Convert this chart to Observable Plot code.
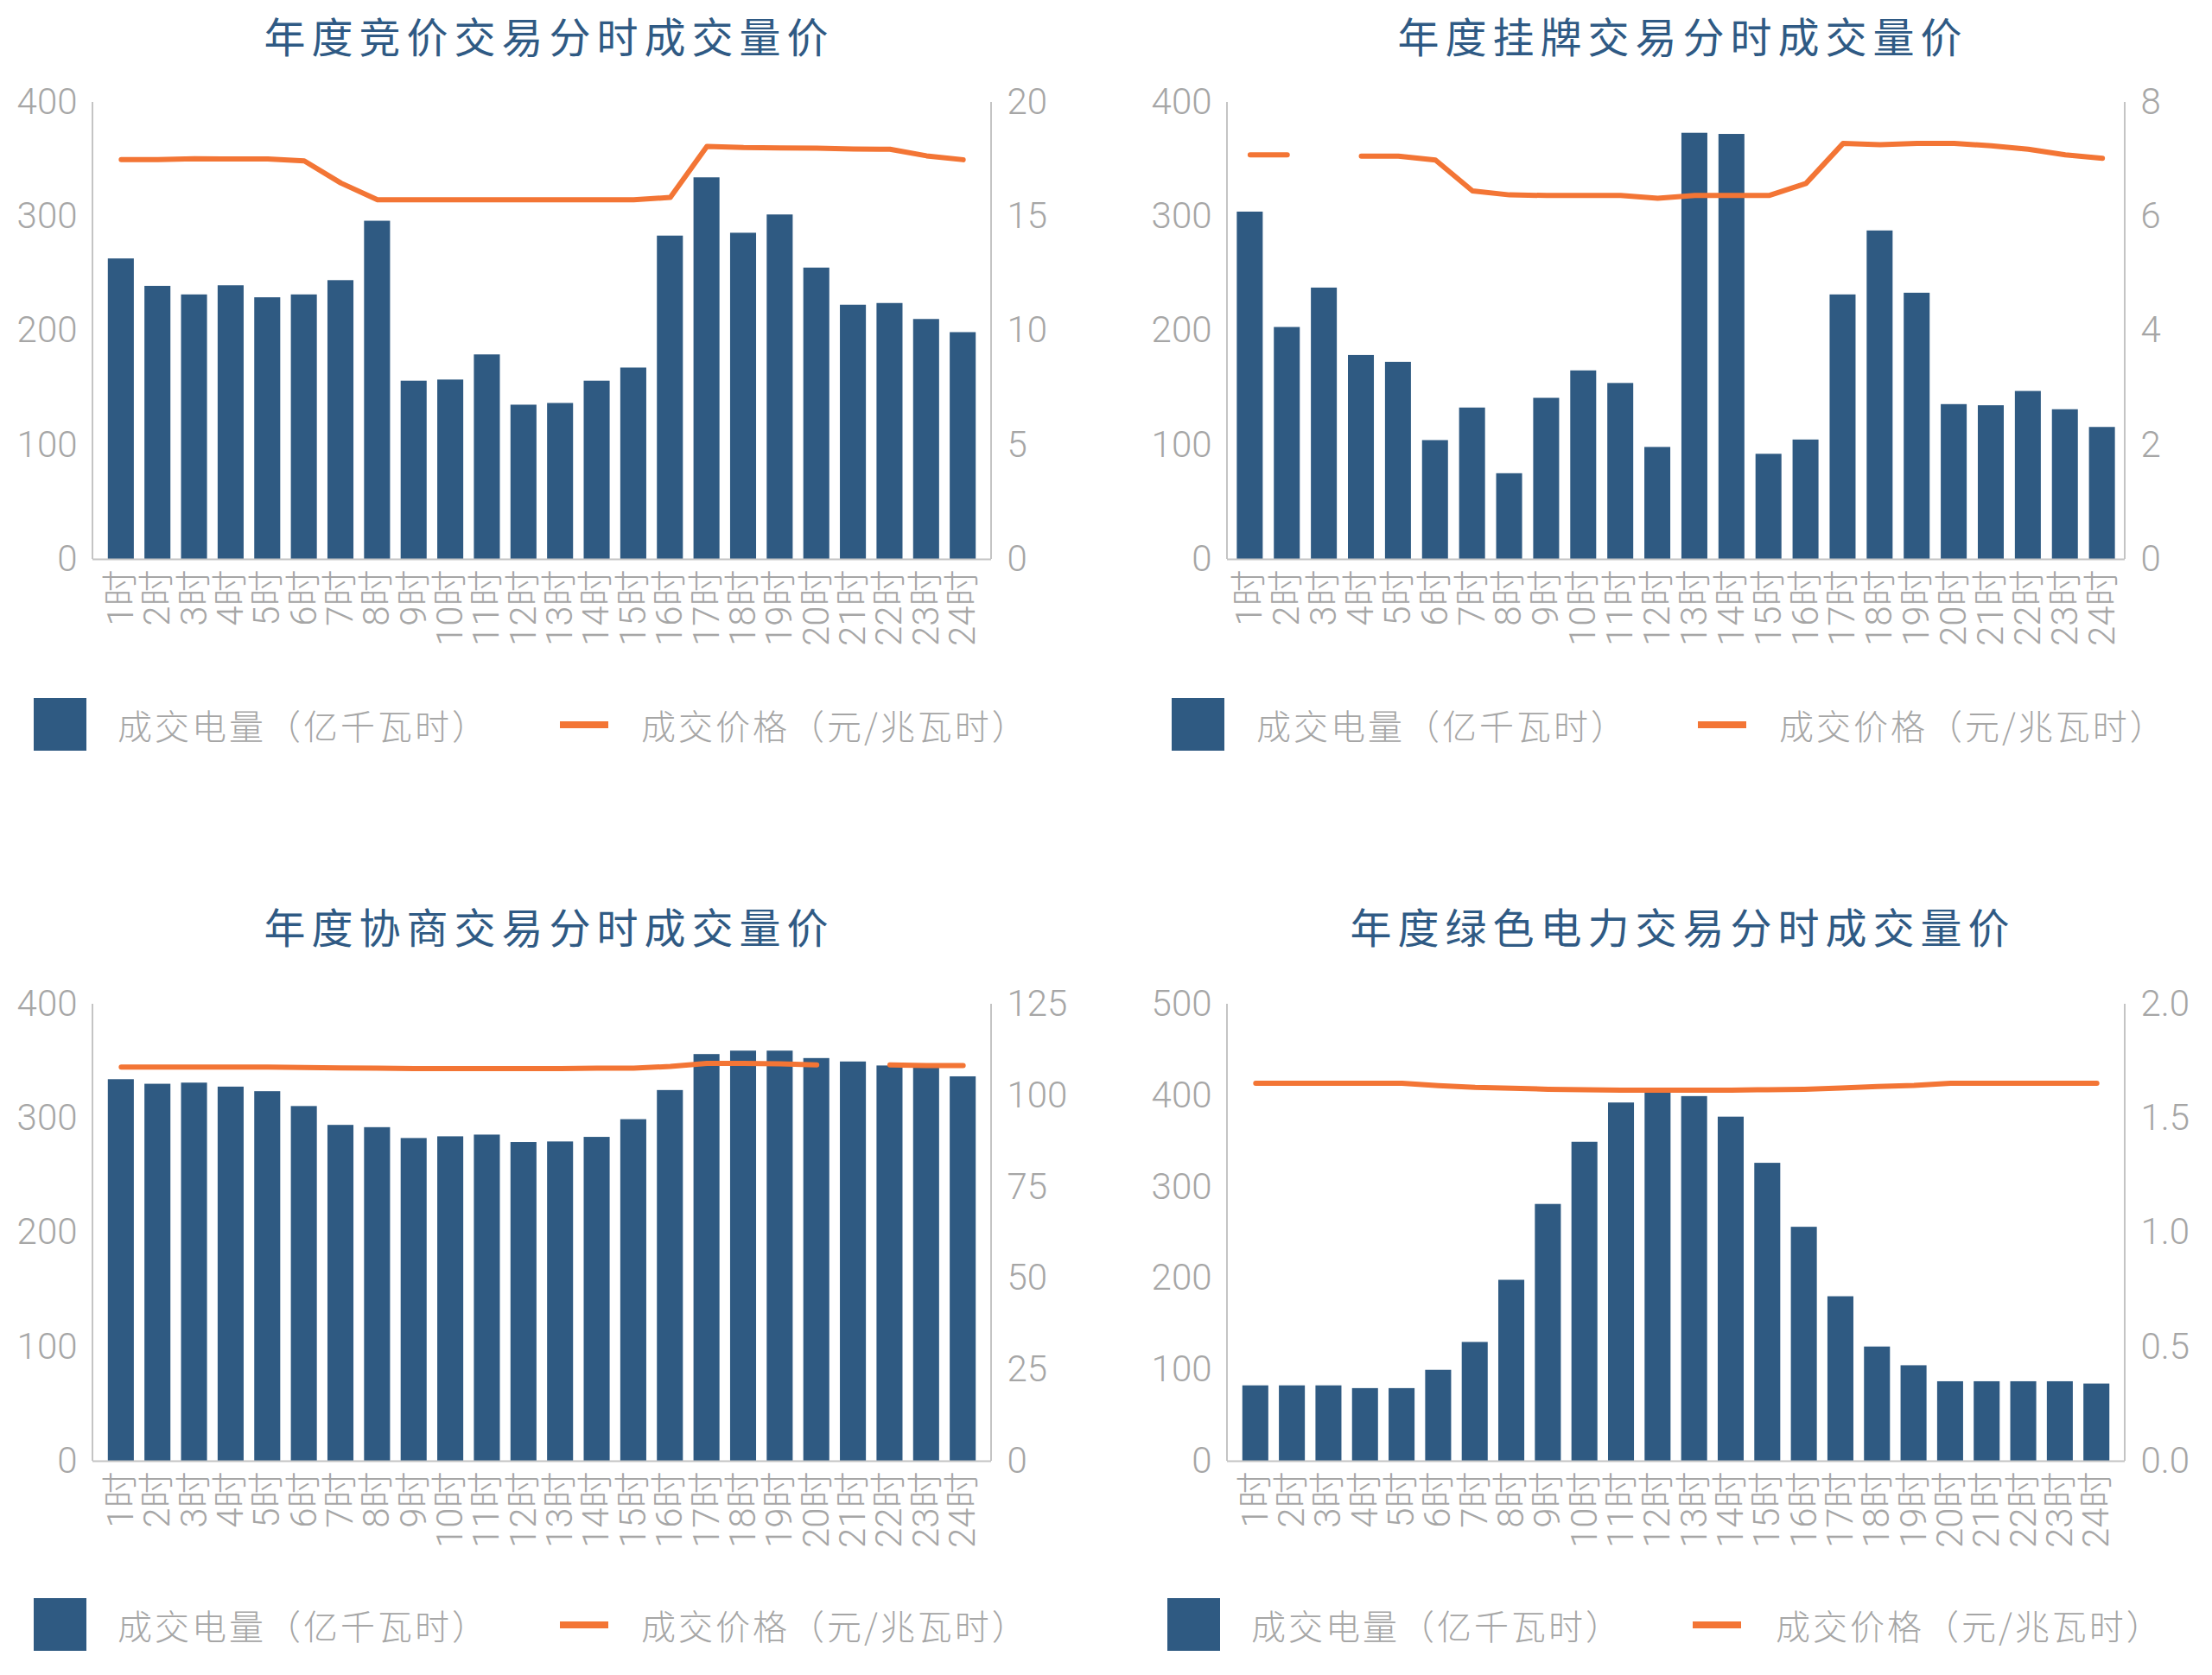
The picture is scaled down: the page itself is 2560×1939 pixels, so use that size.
<!DOCTYPE html>
<html>
<head>
<meta charset="utf-8">
<script src="https://cdn.jsdelivr.net/npm/d3@7"></script>
<script src="https://cdn.jsdelivr.net/npm/@observablehq/plot@0.6"></script>
<style>
  html, body { margin: 0; padding: 0; background: #ffffff; }
  #root { position: relative; width: 2560px; height: 1939px; overflow: hidden; background: #fff; }
  .title { position: absolute; font-family: "Noto Sans CJK SC", sans-serif; font-size: 48px; font-weight: 400;
           color: #2f5a84; letter-spacing: 7px; padding-left: 7px; white-space: nowrap; line-height: 1;
           transform: translate(-50%, -50%); }
  .plot { position: absolute; }
  .lg-text { position: absolute; font-family: "Noto Sans CJK SC", sans-serif; font-weight: 300; font-size: 40px;
             color: #a6a6a6; letter-spacing: 3px; white-space: nowrap; line-height: 1; transform: translateY(-50%); }
  .lg-box { position: absolute; background: #2f5a82; width: 61px; height: 61px; }
  .lg-line { position: absolute; background: #f37535; height: 8px; width: 56px; }
</style>
</head>
<body>
<div id="root"></div>
<script>
// ---------- data ----------
const hours = ["1时","2时","3时","4时","5时","6时","7时","8时","9时","10时","11时","12时",
               "13时","14时","15时","16时","17时","18时","19时","20时","21时","22时","23时","24时"];

const volumeLabel = "成交电量（亿千瓦时）";
const priceLabel = "成交价格（元/兆瓦时）";

// 年度竞价交易
const bidTitle = "年度竞价交易分时成交量价";
const bidVolume = [263, 239, 231.5, 239.5, 229, 231.5, 244, 296, 156, 157, 179, 135,
                   136.5, 156, 167.5, 283, 334, 285.5, 301.5, 255, 222.5, 224, 210, 198.5];
const bidPrice = [17.5, 17.5, 17.53, 17.52, 17.52, 17.44, 16.47, 15.74, 15.74, 15.74, 15.74, 15.74,
                  15.74, 15.74, 15.74, 15.84, 18.07, 18.02, 18.01, 18.0, 17.96, 17.95, 17.66, 17.49];
const bidLeftTicks = [0, 100, 200, 300, 400];
const bidRightTicks = [0, 5, 10, 15, 20];

// 年度挂牌交易
const listTitle = "年度挂牌交易分时成交量价";
const listVolume = [304, 203, 237.5, 178.5, 172.5, 104, 132.5, 75, 141, 165, 154, 98,
                    373, 372, 92, 104.5, 231.5, 287.5, 233, 135.5, 134.5, 147, 131, 115.5];
const listPrice = [7.08, 7.08, null, 7.06, 7.06, 6.99, 6.45, 6.38, 6.37, 6.37, 6.37, 6.32,
                   6.37, 6.37, 6.37, 6.58, 7.28, 7.26, 7.28, 7.28, 7.24, 7.18, 7.08, 7.02];
const listLeftTicks = [0, 100, 200, 300, 400];
const listRightTicks = [0, 2, 4, 6, 8];

// 年度协商交易
const negoTitle = "年度协商交易分时成交量价";
const negoVolume = [334, 330, 331, 327.5, 323.5, 310.5, 294, 292, 282.5, 284, 285.5, 279,
                    279.5, 283.5, 299, 324.5, 356, 359, 359, 352.5, 349.5, 346, 346, 336.5];
const negoPrice = [107.8, 107.8, 107.8, 107.8, 107.8, 107.7, 107.6, 107.5, 107.4, 107.4, 107.4, 107.4,
                   107.4, 107.5, 107.5, 108.0, 108.8, 108.8, 108.7, 108.4, null, 108.4, 108.2, 108.2];
const negoLeftTicks = [0, 100, 200, 300, 400];
const negoRightTicks = [0, 25, 50, 75, 100, 125];

// 年度绿色电力交易
const greenTitle = "年度绿色电力交易分时成交量价";
const greenVolume = [82.5, 82.5, 82.5, 79.5, 79.5, 99.5, 130, 198, 281, 349, 392, 407,
                     399, 376.5, 326, 256, 180, 125, 104.5, 87, 87, 87, 87, 84.5];
const greenPrice = [1.654, 1.654, 1.654, 1.654, 1.654, 1.644, 1.636, 1.632, 1.628, 1.626, 1.624, 1.624,
                    1.624, 1.624, 1.626, 1.628, 1.633, 1.64, 1.645, 1.654, 1.654, 1.654, 1.654, 1.654];
const greenLeftTicks = [0, 100, 200, 300, 400, 500];
const greenRightTicks = [0, 0.5, 1.0, 1.5, 2.0];

// ---------- drawing ----------
const BAR = "#2f5a82", LINE = "#f37535", AXIS = "#c4c4c4", TICK = "#a6a6a6";
const root = document.getElementById("root");

function addDiv(cls, style, text) {
  const d = document.createElement("div");
  d.className = cls;
  Object.assign(d.style, style);
  if (text != null) d.textContent = text;
  root.appendChild(d);
  return d;
}

function frameSides() {
  return (index, scales, values, dims) => {
    const g = d3.create("svg:g");
    for (const x of [dims.marginLeft, dims.width - dims.marginRight]) {
      g.append("line").attr("x1", x).attr("x2", x)
        .attr("y1", dims.marginTop).attr("y2", dims.height - dims.marginBottom)
        .attr("stroke", AXIS).attr("stroke-width", 2);
    }
    return g.node();
  };
}

function makeChart(cfg) {
  const leftMax = cfg.leftTicks[cfg.leftTicks.length - 1];
  const rightMax = cfg.rightTicks[cfg.rightTicks.length - 1];
  const k = leftMax / rightMax;
  const rows = hours.map((h, i) => ({
    h, v: cfg.volume[i], p: cfg.price[i] == null ? NaN : cfg.price[i] * k
  }));
  const mt = 18, plotH = 529, mb = 150;
  const svg = Plot.plot({
    width: 1280,
    height: mt + plotH + mb,
    marginTop: mt, marginBottom: mb,
    marginLeft: cfg.marginLeft, marginRight: cfg.marginRight,
    style: {
      fontFamily: "Roboto, 'Noto Sans CJK SC', sans-serif",
      fontSize: "42px", fontWeight: 300, color: TICK,
      background: "transparent", overflow: "visible"
    },
    x: { domain: hours, paddingInner: cfg.pi, paddingOuter: cfg.po, round: false, label: null },
    y: { domain: [0, leftMax], label: null },
    marks: [
      Plot.barY(rows, { x: "h", y: "v", fill: BAR }),
      Plot.ruleY([0], { stroke: AXIS, strokeWidth: 2 }),
      frameSides(),
      Plot.lineY(rows, { x: "h", y: "p", stroke: LINE, strokeWidth: 6 }),
      Plot.axisY({ ticks: cfg.leftTicks, anchor: "left", tickSize: 0, tickPadding: 18, label: null }),
      Plot.axisY({ ticks: cfg.rightTicks.map(t => t * k), anchor: "right", tickSize: 0, tickPadding: 18,
                   tickFormat: d => cfg.rightFmt(d / k), label: null }),
      Plot.axisX({ tickRotate: -90, tickSize: 0, tickPadding: 12, label: null })
    ]
  });
  svg.classList.add("plot");
  svg.style.left = cfg.left + "px";
  svg.style.top = (cfg.plotTop - mt) + "px";
  root.appendChild(svg);

  addDiv("title", { left: cfg.titleX + "px", top: cfg.titleY + "px" }, cfg.title);
  const ly = cfg.legendY;
  addDiv("lg-box", { left: cfg.lgBox + "px", top: (ly - 31) + "px" });
  addDiv("lg-text", { left: cfg.lgText1 + "px", top: ly + "px" }, volumeLabel);
  addDiv("lg-line", { left: cfg.lgLine + "px", top: (ly - 4) + "px" });
  addDiv("lg-text", { left: cfg.lgText2 + "px", top: ly + "px" }, priceLabel);
}

const intFmt = d => String(Math.round(d));
const oneDec = d => d.toFixed(1);

makeChart({
  title: bidTitle, volume: bidVolume, price: bidPrice,
  leftTicks: bidLeftTicks, rightTicks: bidRightTicks, rightFmt: intFmt,
  left: 0, plotTop: 118, marginLeft: 107, marginRight: 133, pi: 0.29, po: 0.42,
  titleX: 632, titleY: 40, legendY: 839, lgBox: 39, lgText1: 136, lgLine: 648, lgText2: 742
});
makeChart({
  title: listTitle, volume: listVolume, price: listPrice,
  leftTicks: listLeftTicks, rightTicks: listRightTicks, rightFmt: intFmt,
  left: 1280, plotTop: 118, marginLeft: 140, marginRight: 101, pi: 0.30, po: 0.265,
  titleX: 1944, titleY: 40, legendY: 839, lgBox: 1356, lgText1: 1454, lgLine: 1965, lgText2: 2059
});
makeChart({
  title: negoTitle, volume: negoVolume, price: negoPrice,
  leftTicks: negoLeftTicks, rightTicks: negoRightTicks, rightFmt: intFmt,
  left: 0, plotTop: 1162, marginLeft: 107, marginRight: 133, pi: 0.29, po: 0.42,
  titleX: 632, titleY: 1071, legendY: 1881, lgBox: 39, lgText1: 136, lgLine: 648, lgText2: 742
});
makeChart({
  title: greenTitle, volume: greenVolume, price: greenPrice,
  leftTicks: greenLeftTicks, rightTicks: greenRightTicks, rightFmt: oneDec,
  left: 1280, plotTop: 1162, marginLeft: 140, marginRight: 101, pi: 0.29, po: 0.42,
  titleX: 1944, titleY: 1071, legendY: 1881, lgBox: 1351, lgText1: 1448, lgLine: 1959, lgText2: 2055
});
</script>
</body>
</html>
